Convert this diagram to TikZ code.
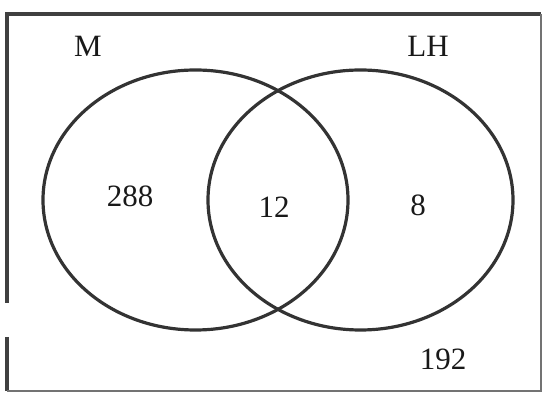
\documentclass[tikz,border=0pt]{standalone}
\usepackage{fontspec}
\setmainfont{Liberation Serif}
\usepackage{tikz}
\usetikzlibrary{calc}
\tikzset{venn/.style={draw=black!80,line width=3.2pt},
  frame/.style={draw=black!75,line width=3.4pt},
  thinframe/.style={draw=black!55,line width=1.6pt},
  lbl/.style={text=black!90,font=\fontsize{31}{35}\selectfont,inner sep=0pt}}
\begin{document}
\begin{tikzpicture}[x=1pt,y=1pt]
\useasboundingbox (0,0) rectangle (544,394);
% frame of the universal set
\draw[frame] (7,91)--(7,380)--(541,380);
\draw[frame] (7,57)--(7,3);
\draw[thinframe] (7,3)--(541,3)--(541,380);
% the two sets
\draw[venn] (195.5,194) ellipse[x radius=152.5,y radius=130];
\draw[venn] (360.5,194) ellipse[x radius=152.5,y radius=130];
\node[lbl] (nameM) at (88,348) {M};
\node[lbl] (nameLH) at (428,348) {LH};
\node[lbl] (onlyM) at (130,198) {288};
\node[lbl] (both) at (274,187) {12};
\node[lbl] (onlyLH) at (418,189) {8};
\node[lbl] (neither) at (443,35) {192};
\end{tikzpicture}
\end{document}
